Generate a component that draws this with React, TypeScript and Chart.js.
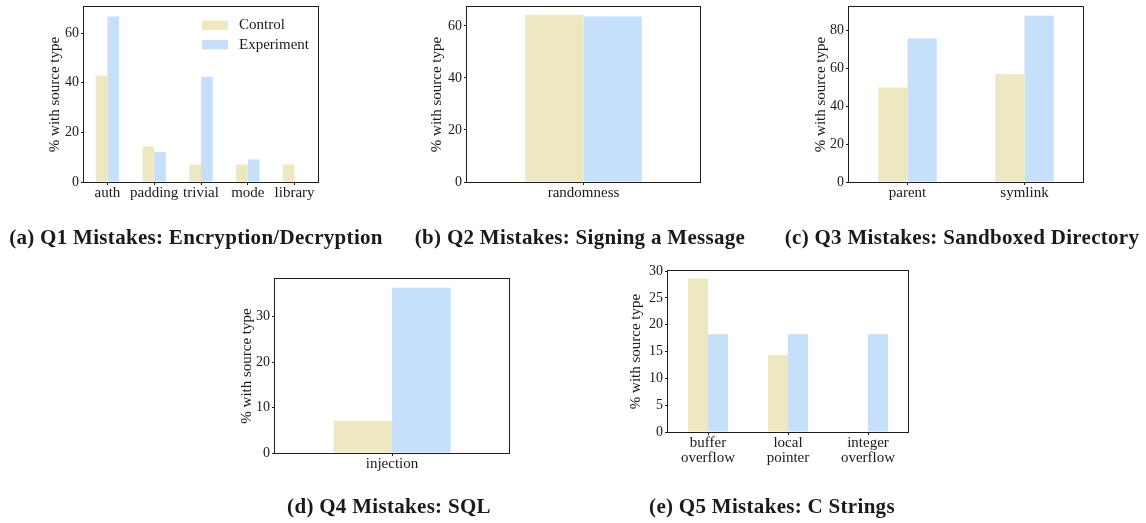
import React, { useEffect, useRef } from "react";
import { Chart, registerables } from "chart.js";

Chart.register(...registerables);

// ---------- data ----------
const seriesNames = ["Control", "Experiment"];

const q1Categories = ["auth", "padding", "trivial", "mode", "library"];
const q1Control = [42.9, 14.3, 7.1, 7.1, 7.1];
const q1Experiment = [66.7, 12.1, 42.4, 9.1, 0];
const q1Ticks = [0, 20, 40, 60];

const q2Categories = ["randomness"];
const q2Control = [64.3];
const q2Experiment = [63.6];
const q2Ticks = [0, 20, 40, 60];

const q3Categories = ["parent", "symlink"];
const q3Control = [50.0, 57.1];
const q3Experiment = [75.8, 87.9];
const q3Ticks = [0, 20, 40, 60, 80];

const q4Categories = ["injection"];
const q4Control = [7.1];
const q4Experiment = [36.4];
const q4Ticks = [0, 10, 20, 30];

const q5Categories = [["buffer", "overflow"], ["local", "pointer"], ["integer", "overflow"]];
const q5Control = [28.6, 14.3, 0];
const q5Experiment = [18.2, 18.2, 18.2];
const q5Ticks = [0, 5, 10, 15, 20, 25, 30];

const yTitle = "% with source type";

// ---------- styles ----------
const CONTROL_COLOR = "#EDE8C1";
const EXPERIMENT_COLOR = "#C6E0FC";
const SPINE = "#1c1c1c";
const TEXT = "#1a1a1a";
const FONT = "'Liberation Serif', 'Times New Roman', serif";
const FS = 15;
const FS_Y = 14;

const AXIS_W = 60; // y-axis box width
const AXIS_H = 45; // x-axis box height
const PAD = 12; // top/right padding

type Box = { L: number; T: number; R: number; B: number };

const spinePlugin = {
  id: "spines",
  afterDatasetsDraw(chart: any) {
    const { ctx, chartArea } = chart;
    ctx.save();
    ctx.strokeStyle = SPINE;
    ctx.lineWidth = 1;
    ctx.strokeRect(
      chartArea.left - 0.5,
      chartArea.top - 0.5,
      chartArea.right - chartArea.left + 1,
      chartArea.bottom - chartArea.top + 1
    );
    ctx.restore();
  },
};

const legendPlugin = {
  id: "innerLegend",
  afterDraw(chart: any, _args: any, opts: any) {
    if (!opts || !opts.show) return;
    const { ctx, chartArea } = chart;
    ctx.save();
    ctx.font = `${FS}px ${FONT}`;
    ctx.textBaseline = "middle";
    chart.data.datasets.forEach((ds: any, i: number) => {
      const cy = chartArea.top + opts.firstRow + i * opts.rowGap;
      const px = chartArea.right - opts.fromRight;
      ctx.fillStyle = ds.backgroundColor;
      ctx.fillRect(px, cy - 4.7, 26, 9.4);
      ctx.fillStyle = TEXT;
      ctx.fillText(ds.label, px + 37, cy);
    });
    ctx.restore();
  },
};

type PanelProps = {
  box: Box;
  categories: any[];
  control: number[];
  experiment: number[];
  ticks: number[];
  yMax: number;
  titleOffset: number;
  legend?: boolean;
};

function Panel({ box, categories, control, experiment, ticks, yMax, titleOffset, legend }: PanelProps) {
  const ref = useRef<HTMLCanvasElement | null>(null);
  const width = AXIS_W + (box.R - box.L) + PAD;
  const height = PAD + (box.B - box.T) + AXIS_H;

  useEffect(() => {
    if (!ref.current) return;
    const chart = new Chart(ref.current, {
      type: "bar",
      data: {
        labels: categories,
        datasets: [
          {
            label: seriesNames[0],
            data: control,
            backgroundColor: CONTROL_COLOR,
            borderWidth: 0,
            categoryPercentage: 0.5,
            barPercentage: 1.0,
          },
          {
            label: seriesNames[1],
            data: experiment,
            backgroundColor: EXPERIMENT_COLOR,
            borderWidth: 0,
            categoryPercentage: 0.5,
            barPercentage: 1.0,
          },
        ],
      },
      options: {
        responsive: false,
        animation: false,
        devicePixelRatio: 1,
        layout: { padding: { top: PAD, right: PAD, left: 0, bottom: 0 } },
        plugins: {
          legend: { display: false },
          tooltip: { enabled: false },
          innerLegend: { show: !!legend, firstRow: 18.3, rowGap: 19.4, fromRight: 116 },
        } as any,
        scales: {
          x: {
            offset: true,
            afterFit: (s: any) => {
              s.height = AXIS_H;
            },
            grid: { offset: false, drawOnChartArea: false, drawTicks: true, tickLength: 3, color: SPINE },
            border: { display: false },
            ticks: {
              color: TEXT,
              font: { family: FONT, size: FS, lineHeight: 0.96 },
              padding: 1,
              autoSkip: false,
              maxRotation: 0,
            },
          },
          y: {
            min: 0,
            max: yMax,
            afterBuildTicks: (s: any) => {
              s.ticks = ticks.map((v) => ({ value: v }));
            },
            afterFit: (s: any) => {
              s.width = AXIS_W;
            },
            grid: { drawOnChartArea: false, drawTicks: true, tickLength: 3, color: SPINE },
            border: { display: false },
            ticks: {
              color: TEXT,
              font: { family: FONT, size: FS_Y, lineHeight: 1 },
              padding: 2,
            },
            title: {
              display: true,
              text: yTitle,
              color: TEXT,
              font: { family: FONT, size: FS, lineHeight: 1.2 },
              padding: { top: AXIS_W - titleOffset - FS * 0.6, bottom: 0 },
            },
          },
        },
      } as any,
      plugins: [spinePlugin, legendPlugin],
    });
    return () => chart.destroy();
  }, []);

  return (
    <canvas
      ref={ref}
      width={width}
      height={height}
      style={{
        position: "absolute",
        left: box.L - AXIS_W,
        top: box.T - PAD,
        width,
        height,
      }}
    />
  );
}

function Caption({ text, cx, cy }: { text: string; cx: number; cy: number }) {
  const size = 21;
  return (
    <div
      style={{
        position: "absolute",
        left: cx,
        top: cy - size / 2 - 1,
        transform: "translateX(-50%)",
        whiteSpace: "nowrap",
        fontFamily: FONT,
        fontWeight: "bold",
        fontSize: size,
        letterSpacing: "0.3px",
        lineHeight: `${size}px`,
        color: TEXT,
      }}
    >
      {text}
    </div>
  );
}

export default function App() {
  return (
    <div
      style={{
        position: "absolute",
        left: 0,
        top: 0,
        width: 1146,
        height: 523,
        background: "#ffffff",
        overflow: "hidden",
      }}
    >
      <Panel box={{ L: 84, T: 7, R: 318, B: 182 }} categories={q1Categories} control={q1Control} experiment={q1Experiment} ticks={q1Ticks} yMax={70.5} titleOffset={28.6} legend />
      <Panel box={{ L: 467, T: 7, R: 700, B: 182 }} categories={q2Categories} control={q2Control} experiment={q2Experiment} ticks={q2Ticks} yMax={67.3} titleOffset={29.5} />
      <Panel box={{ L: 849, T: 7, R: 1083, B: 182 }} categories={q3Categories} control={q3Control} experiment={q3Experiment} ticks={q3Ticks} yMax={92.5} titleOffset={28.3} />
      <Panel box={{ L: 275, T: 279, R: 509, B: 453 }} categories={q4Categories} control={q4Control} experiment={q4Experiment} ticks={q4Ticks} yMax={38.3} titleOffset={28} />
      <Panel box={{ L: 668, T: 271, R: 908, B: 432 }} categories={q5Categories} control={q5Control} experiment={q5Experiment} ticks={q5Ticks} yMax={30} titleOffset={31.5} />

      <Caption text="(a) Q1 Mistakes: Encryption/Decryption" cx={196} cy={238} />
      <Caption text="(b) Q2 Mistakes: Signing a Message" cx={580} cy={238} />
      <Caption text="(c) Q3 Mistakes: Sandboxed Directory" cx={962} cy={238} />
      <Caption text="(d) Q4 Mistakes: SQL" cx={389} cy={507} />
      <Caption text="(e) Q5 Mistakes: C Strings" cx={772} cy={507} />
    </div>
  );
}
